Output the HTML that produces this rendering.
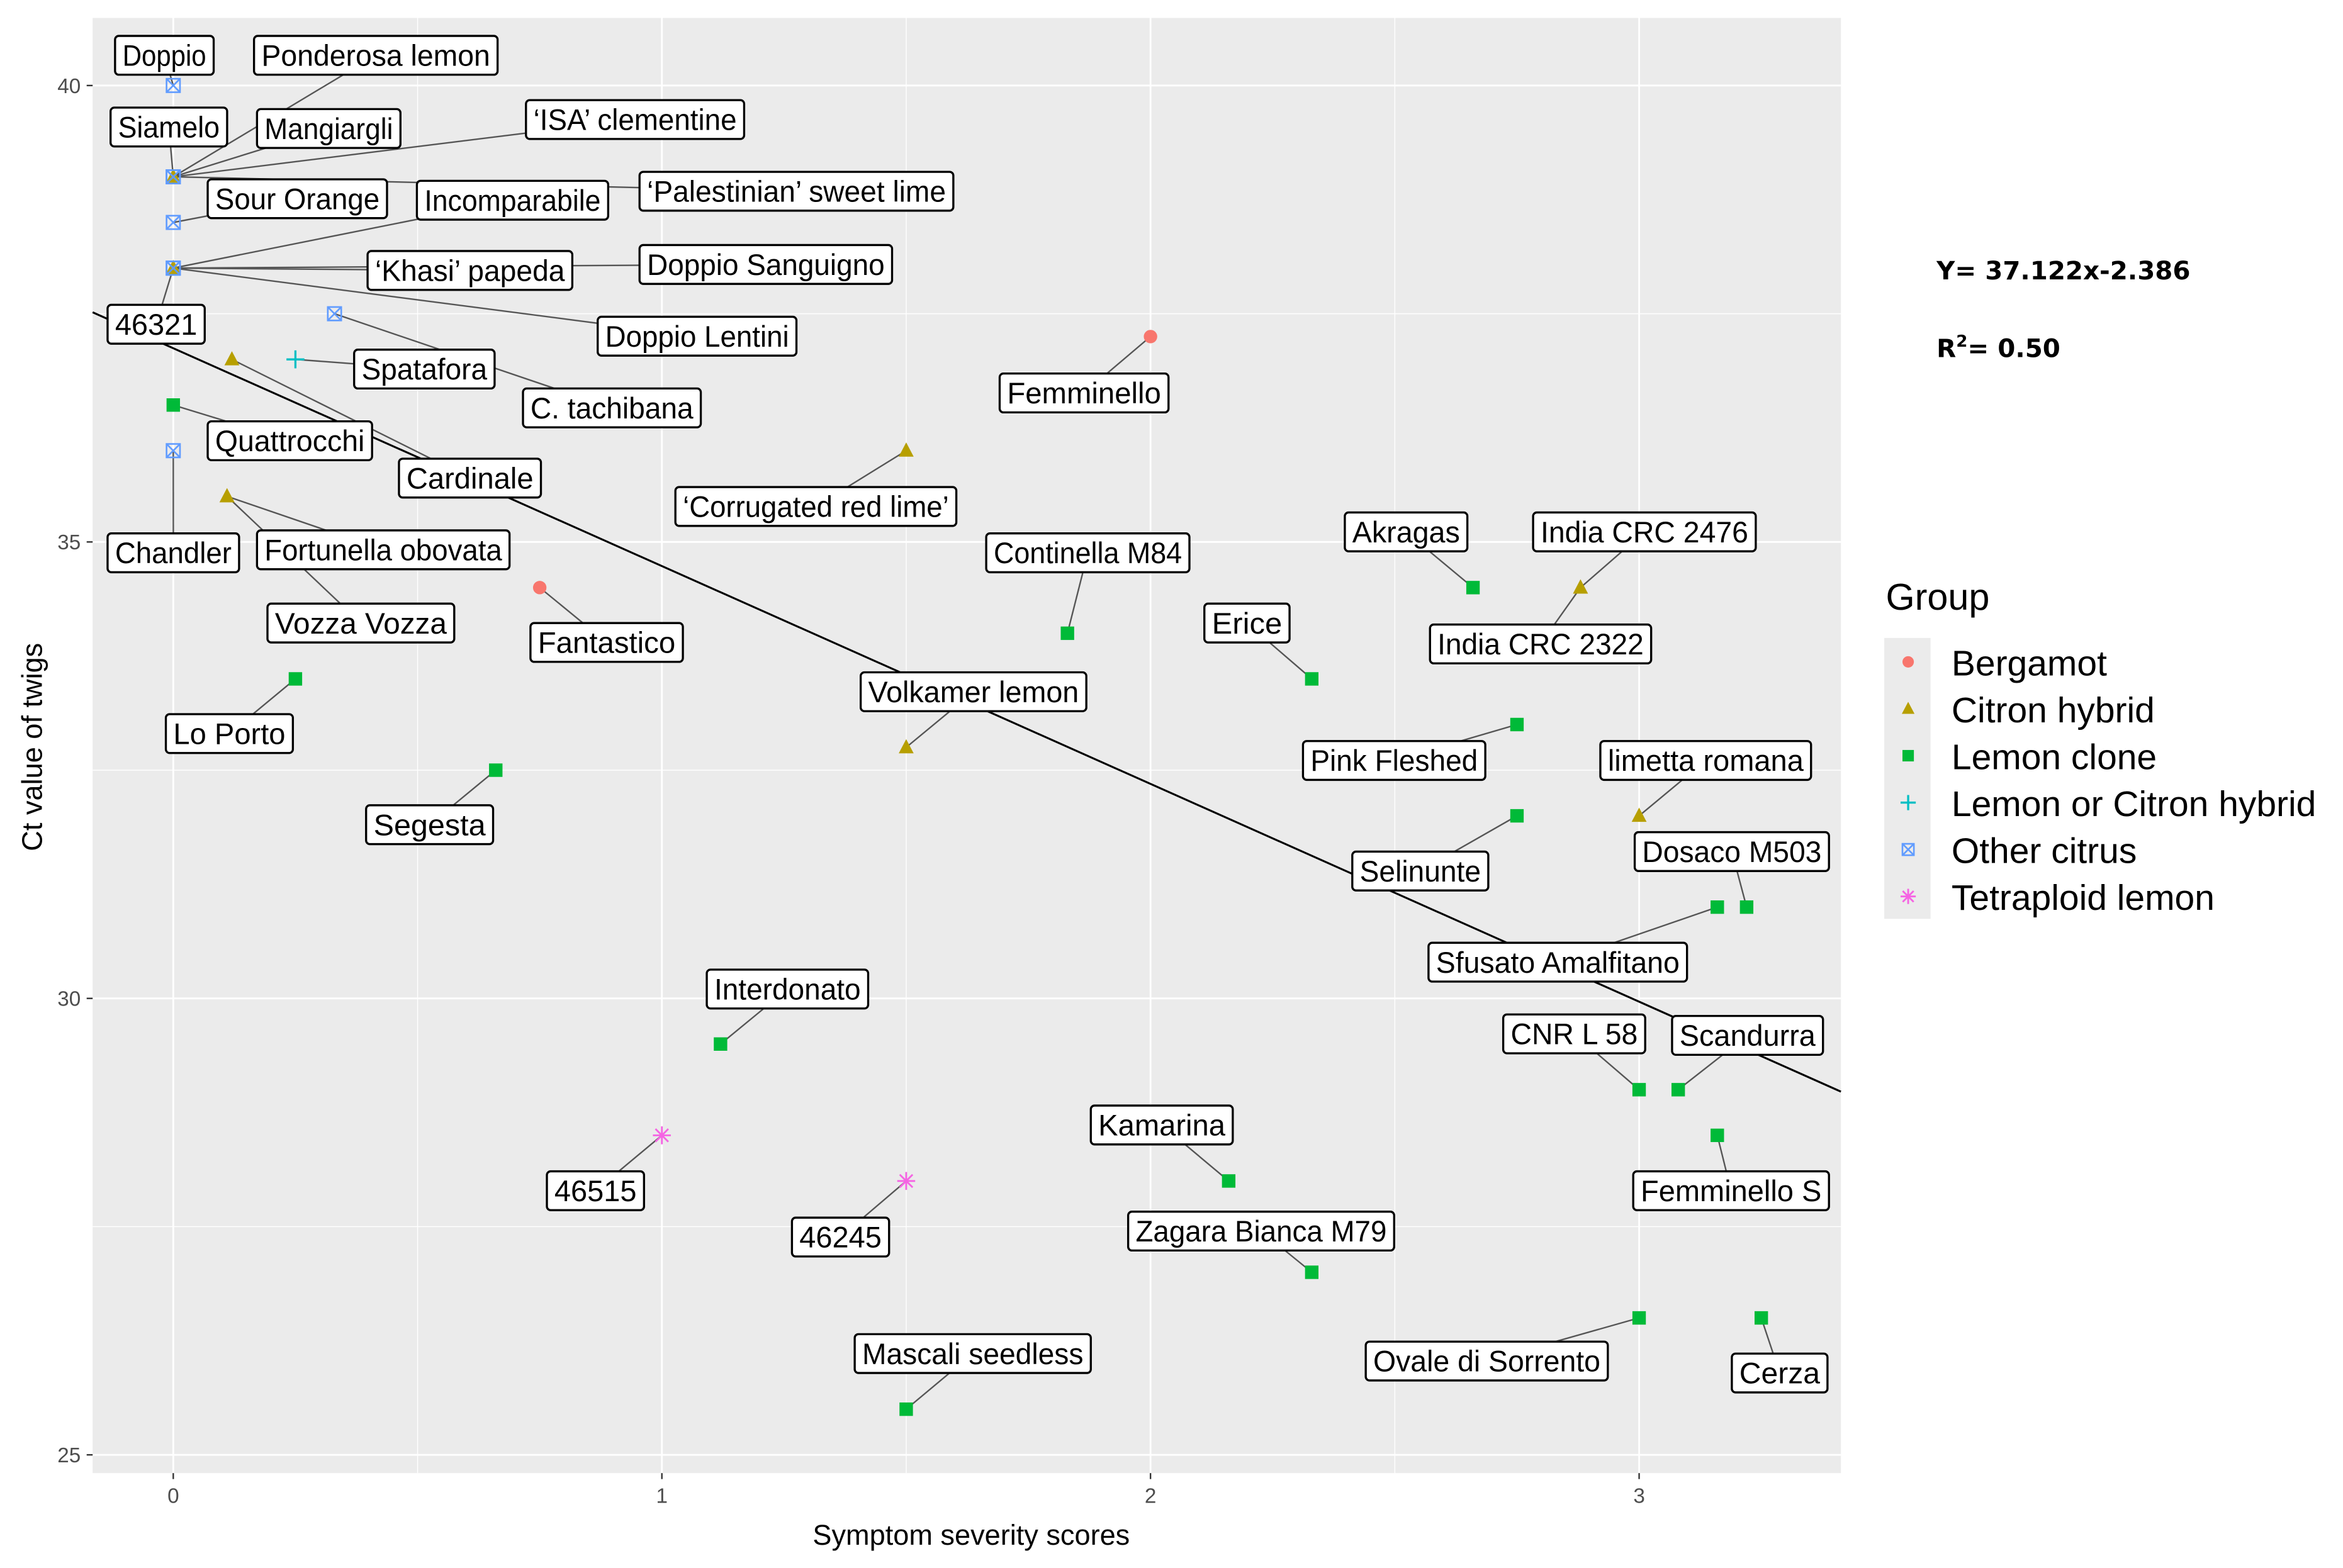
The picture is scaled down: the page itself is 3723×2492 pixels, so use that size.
<!DOCTYPE html>
<html><head><meta charset="utf-8"><style>
html,body{margin:0;padding:0;background:#fff}
svg{display:block}
.lbl{font-family:"Liberation Sans Narrow","Liberation Sans",sans-serif;font-size:20px;fill:#000}
</style></head><body>
<svg id="chart" width="3723" height="2492" viewBox="0 0 1568 1049.5" xmlns="http://www.w3.org/2000/svg">
<rect x="0" y="0" width="1568" height="1049.5" fill="#fff"/>
<g id="panel"></g>
<text x="650" y="1034" text-anchor="middle" font-family="Liberation Sans, sans-serif" font-size="19" fill="#000">Symptom severity scores</text>
<text transform="translate(28,500) rotate(-90)" text-anchor="middle" font-family="Liberation Sans, sans-serif" font-size="19" fill="#000">Ct value of twigs</text>
<text x="1296" y="187" font-family="DejaVu Sans, sans-serif" font-weight="bold" font-size="17">Y= 37.122x-2.386</text>
<text x="1296" y="239" font-family="DejaVu Sans, sans-serif" font-weight="bold" font-size="17">R<tspan font-size="11" dy="-7">2</tspan><tspan dy="7">= 0.50</tspan></text>
<g id="legend"></g>
</svg>
<script>
const names=["Doppio","Ponderosa lemon","Siamelo","Mangiargli","\u2018ISA\u2019 clementine","Sour Orange","Incomparabile","\u2018Palestinian\u2019 sweet lime","\u2018Khasi\u2019 papeda","Doppio Sanguigno","Doppio Lentini","46321","Spatafora","C. tachibana","Cardinale","Quattrocchi","Chandler","Fortunella obovata","Vozza Vozza","Lo Porto","Segesta","Fantastico","Femminello","\u2018Corrugated red lime\u2019","Continella M84","Volkamer lemon","Erice","Akragas","India CRC 2476","India CRC 2322","Pink Fleshed","limetta romana","Selinunte","Dosaco M503","Sfusato Amalfitano","Interdonato","CNR L 58","Scandurra","Femminello S","46515","46245","Kamarina","Zagara Bianca M79","Ovale di Sorrento","Cerza","Mascali seedless"];
const xs=[0,0,0,0,0,0,0,0,0,0,0,0,0.25,0.33,0.12,0,0,0.11,0.11,0.25,0.66,0.75,2,1.5,1.83,1.5,2.33,2.66,2.88,2.88,2.75,3,2.75,3.22,3.16,1.12,3,3.08,3.16,1,1.5,2.16,2.33,3,3.25,1.5];
const ys=[40,39,39,39,39,38.5,38,39,38,38,38,38,37,37.5,37,36.5,36,35.5,35.5,33.5,32.5,34.5,37.25,36,34,32.75,33.5,34.5,34.5,34.5,33,32,32,31,31,29.5,29,29,28.5,28.5,28,28,27,26.5,26.5,25.5];
const groups=["O","O","O","C","O","O","C","O","O","C","O","O","L","O","C","M","O","C","C","M","M","B","B","C","M","C","M","M","C","C","M","C","M","M","M","M","M","M","M","T","T","M","M","M","M","M"];
const xTicks=[0,1,2,3];
const yTicks=[25,30,35,40];
const legendKeys=["B","C","M","L","O","T"];
const legendLabels=["Bergamot","Citron hybrid","Lemon clone","Lemon or Citron hybrid","Other citrus","Tetraploid lemon"];
const regIntercept=37.122, regSlope=-2.386;
// label box layout [x1,x2,cy] in view units
const boxes=[[77,143,37],[170,333,37],[74,152,85],[172,268,86],[352,498,80],[139,259,133],[279,407,134],[428,638,128],[246,383,181],[428,597,177],[400,533,225],[72,137,217],[237,331,247],[350,469,273],[267,362,320],[139,249,295],[72,160,370],[172,341,368],[179,304,417],[111,196,491],[245,330,552],[355,457,430],[669,782,263],[452,640,339],[660,796,370],[576,727,463],[806,863,417],[900,982,356],[1026,1175,356],[957,1105,431],[872,994,509],[1071,1212,509],[905,996,583],[1094,1224,570],[956,1129,644],[473,581,662],[1006,1101,692],[1119,1220,693],[1093,1224,797],[366,431,797],[530,595,828],[730,825,753],[755,933,824],[914,1076,911],[1159,1223,919],[572,730,906]];
const colors={B:"#F8766D",C:"#B79F00",M:"#00BA38",L:"#00BFC4",O:"#619CFF",T:"#F564E3"};
const PX0=62,PX1=1232,PY0=12,PY1=986;
const X0=-0.165,X1=3.413,Y0=24.8,Y1=40.74;
const sx=v=>PX0+(v-X0)/(X1-X0)*(PX1-PX0);
const sy=v=>PY1-(v-Y0)/(Y1-Y0)*(PY1-PY0);
const NS="http://www.w3.org/2000/svg";
const svg=document.getElementById('chart');
const panel=document.getElementById('panel');
function mk(tag,attrs,parent){const e=document.createElementNS(NS,tag);for(const k in attrs)e.setAttribute(k,attrs[k]);(parent||svg).appendChild(e);return e;}
let r=mk('rect',{x:PX0,y:PY0,width:PX1-PX0,height:PY1-PY0,fill:"#ebebeb"},panel);


// minor grid
for(let i=0;i<xTicks.length;i++){const v=xTicks[i]+0.5;if(v<X1){let l=mk('line',{x1:sx(v),x2:sx(v),y1:PY0,y2:PY1,stroke:"#fff","stroke-width":0.6},panel);}}
for(let i=0;i<yTicks.length;i++){const v=yTicks[i]+2.5;if(v<Y1){let l=mk('line',{x1:PX0,x2:PX1,y1:sy(v),y2:sy(v),stroke:"#fff","stroke-width":0.6},panel);}}
xTicks.forEach(v=>{let l=mk('line',{x1:sx(v),x2:sx(v),y1:PY0,y2:PY1,stroke:"#fff","stroke-width":1.2},panel);
 let t=mk('line',{x1:sx(v),x2:sx(v),y1:PY1,y2:PY1+4,stroke:"#333","stroke-width":1});
 let tx=mk('text',{x:sx(v),y:PY1+20,"text-anchor":"middle","font-family":"Liberation Sans, sans-serif","font-size":14,fill:"#4d4d4d"});tx.textContent=v;});
yTicks.forEach(v=>{let l=mk('line',{x1:PX0,x2:PX1,y1:sy(v),y2:sy(v),stroke:"#fff","stroke-width":1.2},panel);
 let t=mk('line',{x1:PX0-4,x2:PX0,y1:sy(v),y2:sy(v),stroke:"#333","stroke-width":1});
 let tx=mk('text',{x:PX0-8,y:sy(v)+5,"text-anchor":"end","font-family":"Liberation Sans, sans-serif","font-size":14,fill:"#4d4d4d"});tx.textContent=v;});
// regression line
let rl=mk('line',{x1:sx(X0),y1:sy(regIntercept+regSlope*X0),x2:sx(X1),y2:sy(regIntercept+regSlope*X1),stroke:"#000","stroke-width":1.3});


function marker(g,cx,cy,parent,s){s=s||1;const c=colors[g];let e;
 if(g==="B")e=mk('circle',{cx,cy,r:4.5*s,fill:c},parent);
 else if(g==="C")e=mk('polygon',{points:`${cx},${cy-5.5*s} ${cx+5*s},${cy+4*s} ${cx-5*s},${cy+4*s}`,fill:c},parent);
 else if(g==="M")e=mk('rect',{x:cx-4.5*s,y:cy-4.5*s,width:9*s,height:9*s,fill:c},parent);
 else if(g==="L")e=mk('path',{d:`M${cx-6*s},${cy}H${cx+6*s}M${cx},${cy-6*s}V${cy+6*s}`,stroke:c,"stroke-width":1.4,fill:"none"},parent);
 else if(g==="O")e=mk('path',{d:`M${cx-4.5*s},${cy-4.5*s}h${9*s}v${9*s}h${-9*s}zM${cx-4.5*s},${cy-4.5*s}L${cx+4.5*s},${cy+4.5*s}M${cx+4.5*s},${cy-4.5*s}L${cx-4.5*s},${cy+4.5*s}`,stroke:c,"stroke-width":1.1,fill:"none"},parent);
 else e=mk('path',{d:`M${cx-6*s},${cy}H${cx+6*s}M${cx},${cy-6*s}V${cy+6*s}M${cx-4.3*s},${cy-4.3*s}L${cx+4.3*s},${cy+4.3*s}M${cx+4.3*s},${cy-4.3*s}L${cx-4.3*s},${cy+4.3*s}`,stroke:c,"stroke-width":1.2,fill:"none"},parent);
 return e;}
// leader lines
names.forEach((n,i)=>{const b=boxes[i];let l=mk('line',{x1:sx(xs[i]),y1:sy(ys[i]),x2:(b[0]+b[1])/2,y2:b[2],stroke:"#555","stroke-width":1});});
// points
names.forEach((n,i)=>{let p=marker(groups[i],sx(xs[i]),sy(ys[i]));});
// label boxes
names.forEach((n,i)=>{const b=boxes[i];const g=mk('g',{});
 mk('rect',{x:b[0],y:b[2]-13,width:b[1]-b[0],height:26,rx:2.5,fill:"#fff",stroke:"#000","stroke-width":1.4},g);
 const t=mk('text',{x:b[0]+5,y:b[2]+7,class:"lbl",textLength:b[1]-b[0]-10,lengthAdjust:"spacingAndGlyphs"},g);t.textContent=n;});
// legend
const lg=document.getElementById('legend');
let lt=mk('text',{x:1262,y:408,"font-family":"Liberation Sans, sans-serif","font-size":25,fill:"#000"},lg);lt.textContent="Group";
let kb=mk('rect',{x:1261,y:427,width:31,height:188,fill:"#ebebeb"},lg);
legendKeys.forEach((k,i)=>{const cy=443+i*31.4;const g=mk('g',{},lg);
 marker(k,1277,cy,g,0.85);const t=mk('text',{x:1306,y:cy+9,"font-family":"Liberation Sans, sans-serif","font-size":24,fill:"#000"},g);t.textContent=legendLabels[i];});
</script>
</body></html>
